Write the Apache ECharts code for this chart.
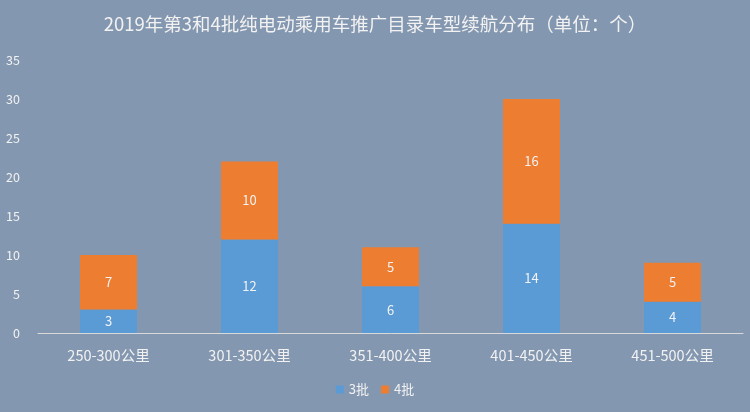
<!DOCTYPE html>
<html><head><meta charset="utf-8">
<script src="https://cdn.jsdelivr.net/npm/echarts@6/dist/echarts.min.js"></script>
<style>html,body{margin:0;padding:0;background:#8497b0}#c{width:750px;height:412px}</style>
</head><body><div id="c"></div>
<script>
const categories = ['250-300公里','301-350公里','351-400公里','401-450公里','451-500公里'];
const batch3 = [3, 12, 6, 14, 4];
const batch4 = [7, 10, 5, 16, 5];
const seriesNames = ['3批','4批'];
const chart = echarts.init(document.getElementById('c'));
const font = '"Microsoft YaHei","Noto Sans CJK SC",sans-serif';
chart.setOption({
  backgroundColor: '#8497b0',
  textStyle: {fontFamily: font},
  title: {text: '2019年第3和4批纯电动乘用车推广目录车型续航分布（单位：个）', left: 'center', top: 10,
    textStyle: {color: '#f2f2f2', fontSize: 18.5, fontWeight: 'normal', fontFamily: font}},
  legend: {bottom: 11, itemWidth: 8, itemHeight: 8, itemGap: 12, icon: 'rect',
    textStyle: {color: '#f2f2f2', fontSize: 13, fontFamily: font}, data: seriesNames},
  grid: {left: 38, right: 7, top: 60, bottom: 79},
  xAxis: {type: 'category', data: categories,
    axisLine: {lineStyle: {color: '#d9d9d9', width: 1}}, axisTick: {show: false},
    axisLabel: {color: '#f2f2f2', fontSize: 14.5, margin: 15, fontFamily: font}},
  yAxis: {type: 'value', min: 0, max: 35, interval: 5,
    axisLine: {show: false}, axisTick: {show: false}, splitLine: {show: false},
    axisLabel: {color: '#f2f2f2', fontSize: 12.5, margin: 18, fontFamily: font}},
  series: [
    {name: seriesNames[0], type: 'bar', stack: 'a', data: batch3, barWidth: 57,
     itemStyle: {color: '#5b9bd5'},
     label: {show: true, position: 'inside', color: '#f2f2f2', fontSize: 13}},
    {name: seriesNames[1], type: 'bar', stack: 'a', data: batch4, barWidth: 57,
     itemStyle: {color: '#ed7d31'},
     label: {show: true, position: 'inside', color: '#f2f2f2', fontSize: 13}}
  ]
});
</script></body></html>
